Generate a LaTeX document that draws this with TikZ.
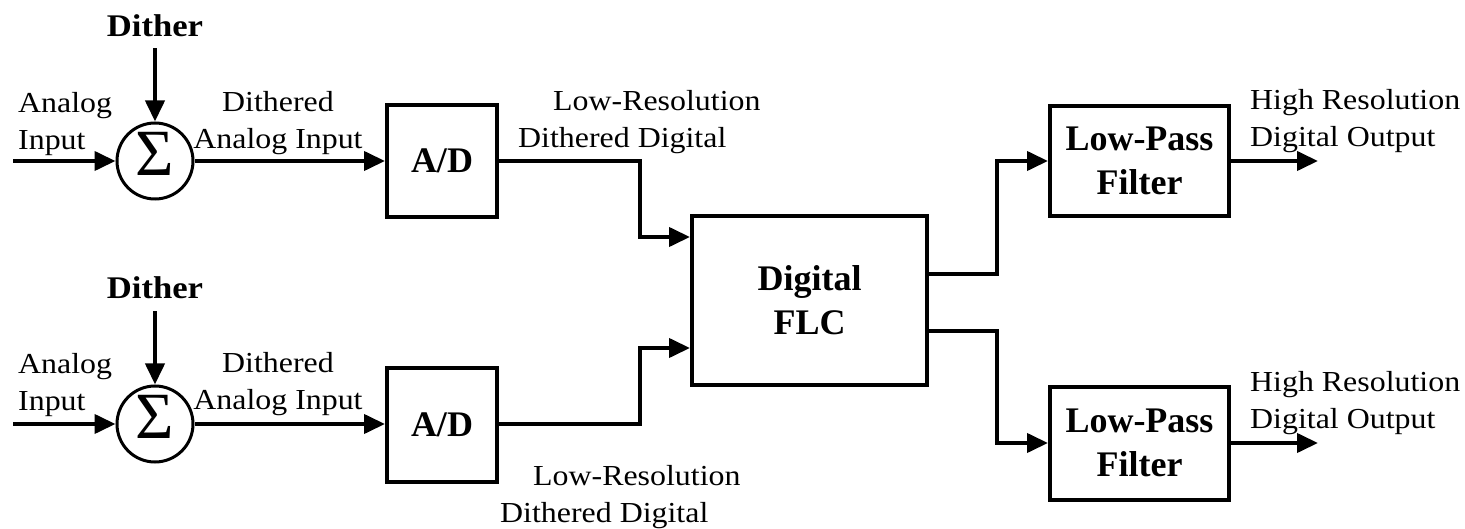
\documentclass[tikz,border=0pt]{standalone}
\usepackage{fontspec}
\setmainfont{Liberation Serif}
\newfontfamily\lblfont{Liberation Serif}[FakeStretch=1.1]
\usetikzlibrary{arrows.meta,positioning}

\begin{document}
\begin{tikzpicture}[x=1pt,y=-1pt,
	block/.style={draw,line width=4pt,inner sep=0pt,align=center,
		font=\fontsize{36}{44}\selectfont\bfseries},
	sumnode/.style={draw,circle,line width=3pt,minimum size=76pt,inner sep=0pt,
		text depth=15pt,font=\fontsize{66}{66}\selectfont},
	lbl/.style={inner sep=0pt,font=\lblfont\fontsize{29}{37}\selectfont},
	dith/.style={inner sep=0pt,font=\lblfont\fontsize{31.5}{36}\selectfont\bfseries},
	wire/.style={line width=4pt},
	sig/.style={line width=4pt,-{Triangle[length=21pt,width=19pt]}}]

	\useasboundingbox (0,0) rectangle (1465,529);

	\coordinate (in1) at (13,161);
\coordinate (in2) at (13,424);
\coordinate (out1) at (1318,161);
\coordinate (out2) at (1318,443);

	% upper channel
	\node[sumnode] (sum1) at (155,161) {Σ};
	\node[dith] (dith1) at (155,26) {Dither};
	\node[block,minimum width=110pt,minimum height=112pt] (ad1) at (442,161) {A/D};
	% lower channel
	\node[sumnode] (sum2) at (155,424) {Σ};
	\node[dith] (dith2) at (155,288) {Dither};
	\node[block,minimum width=110pt,minimum height=114pt] (ad2) at (442,425) {A/D};

	\node[block,minimum width=235pt,minimum height=169pt] (flc) at (809.5,300.5) {Digital\\FLC};
	\node[block,minimum width=179pt,minimum height=110pt] (lpf1) at (1139.5,161) {Low-Pass\\Filter};
	\node[block,minimum width=179pt,minimum height=113pt] (lpf2) at (1139.5,443) {Low-Pass\\Filter};

	% labels
	\node[lbl,anchor=west,align=left] (ain1) at (18,124) {Analog\\Input};
\node[lbl,anchor=west,align=left] (ain2) at (18,385) {Analog\\Input};
\node[lbl,align=center] (dai1) at (278,123) {Dithered\\Analog Input};
\node[lbl,align=center] (dai2) at (278,384) {Dithered\\Analog Input};
\node[lbl,anchor=west,align=left] (ldd1) at (518,122) {\hspace*{35pt}Low-Resolution\\Dithered Digital};
\node[lbl,anchor=west,align=left] (ldd2) at (500,497) {\hspace*{33pt}Low-Resolution\\Dithered Digital};
\node[lbl,anchor=west,align=left] (hro1) at (1250,121) {High Resolution\\Digital Output};
\node[lbl,anchor=west,align=left] (hro2) at (1250,403) {High Resolution\\Digital Output};

	\draw[sig] (in1) -- (sum1);
\draw[sig] (dith1.south) ++(0,11) -- (sum1.north);
\draw[sig] (sum1) -- (ad1);
\draw[sig] (in2) -- (sum2);
\draw[sig] (dith2.south) ++(0,12) -- (sum2.north);
\draw[sig] (sum2) -- (ad2.west |- sum2);

	\draw[sig] (ad1.east) -- ++(141,0) |- ([yshift=63.5pt]flc.west);
\draw[sig] (ad2.east |- sum2) -- ++(141,0) |- ([yshift=-47.5pt]flc.west);
\draw[sig] ([yshift=26.5pt]flc.east) -- ++(68,0) |- (lpf1.west);
\draw[sig] ([yshift=-30.5pt]flc.east) -- ++(68,0) |- (lpf2.west);
\draw[sig] (lpf1) -- (out1);
\draw[sig] (lpf2) -- (out2);

\end{tikzpicture}
\end{document}
